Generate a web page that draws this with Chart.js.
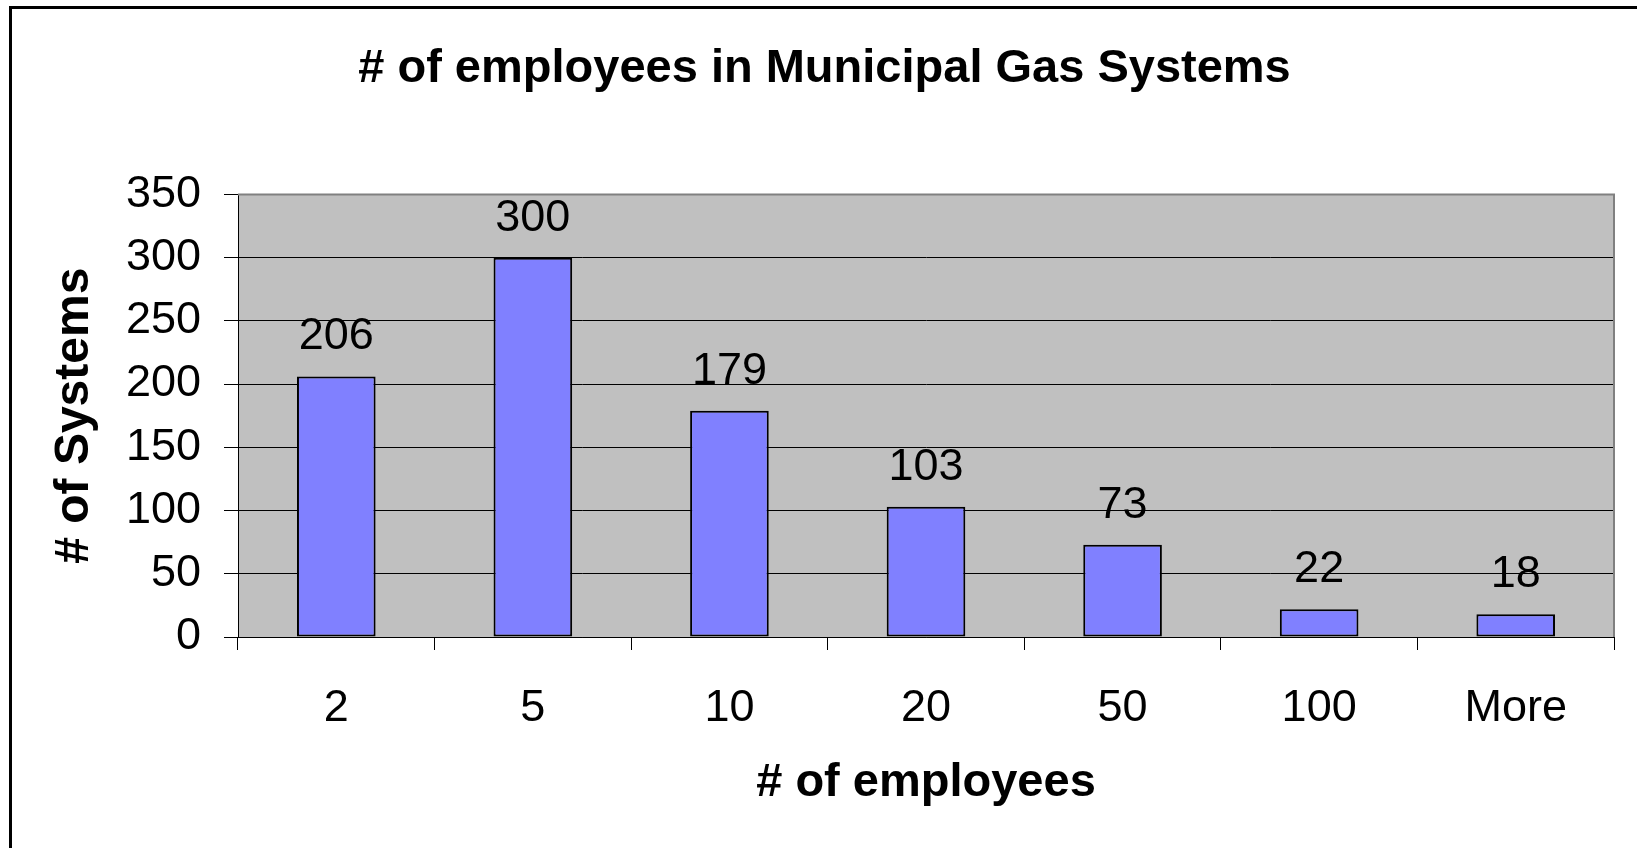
<!DOCTYPE html>
<html>
<head>
<meta charset="utf-8">
<title># of employees in Municipal Gas Systems</title>
<script src="https://cdn.jsdelivr.net/npm/chart.js@4"></script>
<style>
  html, body { margin: 0; padding: 0; background: #fff; overflow: hidden; }
  #wrap { position: relative; width: 1637px; height: 848px; }
  #frame {
    position: absolute; left: 9px; top: 6px; width: 3000px; height: 3000px;
    border-left: 3px solid #000; border-top: 3px solid #000; pointer-events: none;
  }
</style>
</head>
<body>
<div id="wrap">
  <canvas id="gasChart" width="1637" height="848"></canvas>
  <div id="frame"></div>
</div>
<script>
const categories = ["2", "5", "10", "20", "50", "100", "More"];
const systemCounts = [206, 300, 179, 103, 73, 22, 18];
const yMin = 0;
const yMax = 350;
const yStep = 50;

const FONT = "'Liberation Sans', Arial, sans-serif";

// grey plot area with its thin grey frame, like the old Excel default
const plotArea = {
  id: "plotArea",
  beforeDraw(chart) {
    const { ctx, chartArea: a } = chart;
    ctx.save();
    ctx.fillStyle = "#c0c0c0";
    ctx.fillRect(a.left, a.top, a.right - a.left, a.bottom - a.top);
    ctx.restore();
  },
  beforeDatasetsDraw(chart) {
    const { ctx, chartArea: a } = chart;
    ctx.save();
    ctx.strokeStyle = "#808080";
    ctx.lineWidth = 2;
    ctx.beginPath();
    ctx.moveTo(a.left, a.top);
    ctx.lineTo(a.right, a.top);
    ctx.lineTo(a.right, a.bottom);
    ctx.stroke();
    ctx.restore();
  }
};

// value labels above each bar
const barValues = {
  id: "barValues",
  afterDatasetsDraw(chart) {
    const { ctx } = chart;
    const meta = chart.getDatasetMeta(0);
    ctx.save();
    ctx.font = "45px " + FONT;
    ctx.fillStyle = "#000";
    ctx.textAlign = "center";
    ctx.textBaseline = "alphabetic";
    meta.data.forEach((bar, i) => {
      ctx.fillText(String(systemCounts[i]), bar.x, bar.y - 27);
    });
    ctx.restore();
  }
};

new Chart(document.getElementById("gasChart"), {
  type: "bar",
  data: {
    labels: categories,
    datasets: [{
      label: "# of Systems",
      data: systemCounts,
      backgroundColor: "#8080ff",
      borderColor: "#000",
      borderWidth: 2,
      borderSkipped: false,
      categoryPercentage: 1,
      barPercentage: 0.4
    }]
  },
  options: {
    responsive: false,
    animation: false,
    devicePixelRatio: 1,
    layout: { padding: { left: 35, right: 23, top: 0, bottom: 0 } },
    plugins: {
      legend: { display: false },
      tooltip: { enabled: false },
      title: {
        display: true,
        text: "# of employees in Municipal Gas Systems",
        color: "#000",
        font: { family: FONT, size: 47, weight: "bold" },
        padding: { top: 41, bottom: 97 }
      }
    },
    scales: {
      x: {
        afterFit(scale) { scale.height = 211; },
        grid: {
          offset: true,
          drawOnChartArea: false,
          drawTicks: true,
          tickLength: 13,
          tickColor: "#000",
          tickWidth: 1
        },
        border: { display: true, color: "#000", width: 1 },
        ticks: {
          color: "#000",
          padding: 32,
          maxRotation: 0,
          font: { family: FONT, size: 45 }
        },
        title: {
          display: true,
          text: "# of employees",
          color: "#000",
          font: { family: FONT, size: 47, weight: "bold" },
          padding: { top: 0, bottom: 37 }
        }
      },
      y: {
        min: yMin,
        max: yMax,
        afterFit(scale) { scale.width = 203; },
        grid: {
          color: "#000",
          lineWidth: 1,
          drawTicks: true,
          tickLength: 14,
          tickColor: "#000"
        },
        border: { display: true, color: "#000", width: 1 },
        ticks: {
          stepSize: yStep,
          color: "#000",
          padding: 23,
          font: { family: FONT, size: 45 }
        },
        title: {
          display: true,
          text: "# of Systems",
          color: "#000",
          font: { family: FONT, size: 48, weight: "bold" },
          padding: { top: 11, bottom: 0 }
        }
      }
    }
  },
  plugins: [plotArea, barValues]
});
</script>
</body>
</html>
